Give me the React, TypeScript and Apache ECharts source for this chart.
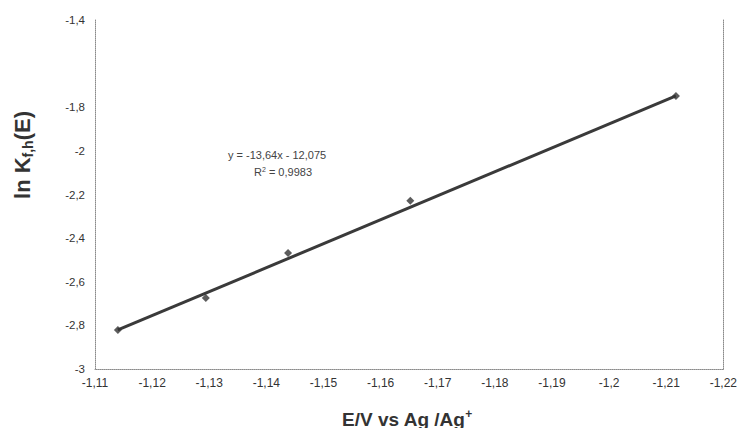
import React, { useEffect, useRef } from "react";
import * as echarts from "echarts";

const potentials = [-1.114, -1.1294, -1.1438, -1.1652, -1.2117];
const lnK = [-2.821, -2.674, -2.468, -2.229, -1.748];
const trendX = [-1.114, -1.2117];
const trendY = [-2.821, -1.748];
const hiddenYLabels = ["-1,6"];
const equationText = "y = -13,64x - 12,075";
const r2Value = "0,9983";

const fmt = (v: number) => {
  const s = String(Number(v.toFixed(2))).replace(".", ",");
  return s;
};

export default function App() {
  const ref = useRef<HTMLDivElement>(null);
  useEffect(() => {
    document.body.style.margin = "0";
    if (!ref.current) return;
    const chart = echarts.init(ref.current, null, { renderer: "svg" });
    const font = "'Liberation Sans', Arial, sans-serif";
    chart.setOption({
      animation: false,
      backgroundColor: "#ffffff",
      textStyle: { fontFamily: font },
      grid: { left: 95, right: 13, top: 20, bottom: 59, containLabel: false },
      xAxis: {
        type: "value",
        min: -1.22,
        max: -1.11,
        interval: 0.01,
        inverse: true,
        axisLine: { show: true, lineStyle: { color: "#8a8a8a", type: "dotted", width: 1 } },
        axisTick: { show: false },
        splitLine: { show: false },
        axisLabel: {
          color: "#333",
          fontSize: 12,
          fontFamily: font,
          margin: 8,
          formatter: (v: number) => fmt(v),
        },
      },
      yAxis: [
        {
          type: "value",
          min: -3,
          max: -1.4,
          interval: 0.2,
          axisLine: { show: true, lineStyle: { color: "#8a8a8a", type: "dotted", width: 1 } },
          axisTick: { show: false },
          splitLine: { show: false },
          axisLabel: {
            color: "#333",
            fontSize: 11.5,
            fontFamily: font,
            margin: 10,
            formatter: (v: number) => {
              const s = fmt(v);
              return hiddenYLabels.includes(s) ? "" : s;
            },
          },
        },
        {
          type: "value",
          position: "right",
          min: -3,
          max: -1.4,
          interval: 0.2,
          axisLine: { show: true, lineStyle: { color: "#8a8a8a", type: "dotted", width: 1 } },
          axisTick: { show: false },
          splitLine: { show: false },
          axisLabel: { show: false },
        },
      ],
      series: [
        {
          type: "line",
          data: trendX.map((x, i) => [x, trendY[i]]),
          symbol: "none",
          lineStyle: { color: "#3a3a3a", width: 3 },
          z: 2,
        },
        {
          type: "scatter",
          data: potentials.map((x, i) => [x, lnK[i]]),
          symbol: "diamond",
          symbolSize: 8,
          itemStyle: { color: "#333" },
          z: 3,
        },
      ],
      graphic: [
        {
          type: "text",
          left: 228,
          top: 149,
          style: {
            text: equationText,
            fontSize: 11,
            fill: "#444",
            fontFamily: font,
          },
        },
        {
          type: "text",
          left: 254,
          top: 166,
          style: {
            text: "R{sup|2} = " + r2Value,
            fontSize: 11,
            fill: "#444",
            fontFamily: font,
            rich: { sup: { fontSize: 7, verticalAlign: "top", padding: [0, 0, 5, 0], fill: "#444" } },
          },
        },
        {
          type: "text",
          x: 22,
          y: 155,
          rotation: Math.PI / 2,
          style: {
            text: "ln K{sub|f,h}(E)",
            fontSize: 22,
            fontWeight: "bold",
            fill: "#333",
            fontFamily: font,
            align: "center",
            verticalAlign: "middle",
            rich: {
              sub: { fontSize: 14, fontWeight: "bold", fill: "#333", padding: [11, 0, 0, 0], fontFamily: font },
            },
          },
        },
        {
          type: "text",
          x: 407,
          y: 419,
          style: {
            text: "E/V vs Ag /Ag{sup|+}",
            fontSize: 19,
            fontWeight: "bold",
            fill: "#333",
            fontFamily: font,
            align: "center",
            verticalAlign: "middle",
            rich: {
              sup: { fontSize: 12, fontWeight: "bold", fill: "#333", padding: [0, 0, 11, 0], fontFamily: font },
            },
          },
        },
      ],
    });
    return () => chart.dispose();
  }, []);
  return <div ref={ref} style={{ width: 740, height: 428 }} />;
}
